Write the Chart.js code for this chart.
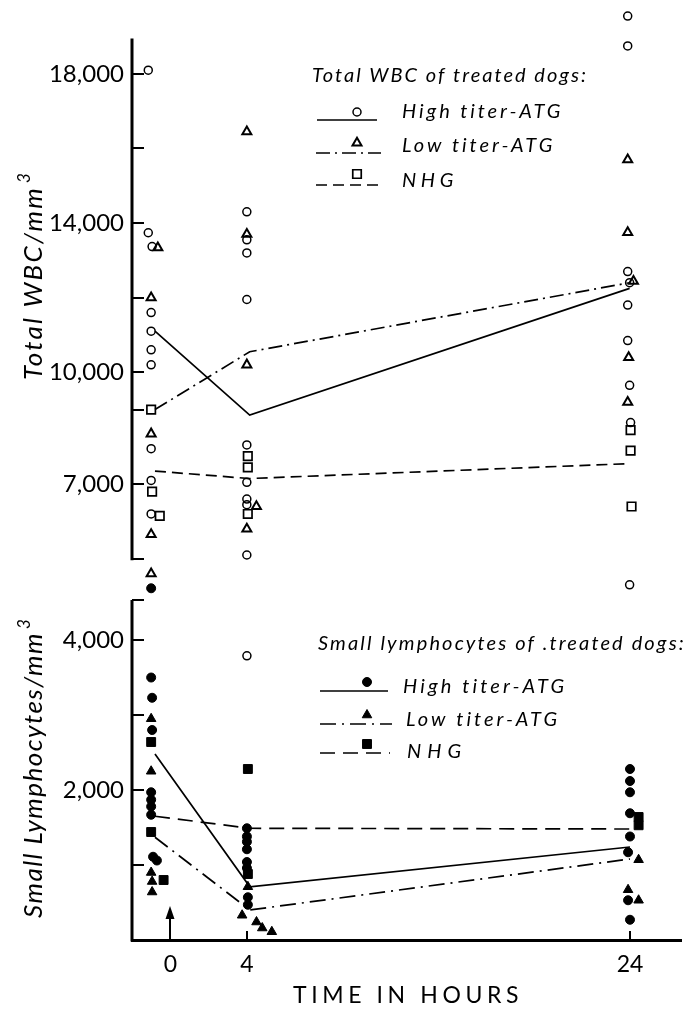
<!DOCTYPE html>
<html>
<head>
<meta charset="utf-8">
<script src="https://cdn.jsdelivr.net/npm/chart.js@4.4.1/dist/chart.umd.min.js"></script>
<style>
  html, body { margin: 0; padding: 0; background: #fff; }
  #wrap { position: relative; width: 689px; height: 1010px; overflow: hidden; background: #fff; }
  canvas { position: absolute; left: 0; }
  #cTop { top: 0; }
  #cBot { top: 565px; }
</style>
</head>
<body>
<div id="wrap">
  <canvas id="cTop" width="689" height="600"></canvas>
  <canvas id="cBot" width="689" height="445"></canvas>
</div>
<script>
// ---------------- DATA ----------------
// time axis (hours); pre-treatment samples are plotted just left of 0
const timeTicks = [0, 4, 24];
const meanTimes = [-0.8, 4.15, 24];

// Total WBC panel (cells / mm3)
const wbcTicks = [5000, 7000, 9000, 10000, 12000, 14000, 16000, 18000];
const wbcTickLabels = ['', '7,000', '', '10,000', '', '14,000', '', '18,000'];
const wbcAxisRange = [5000, 18950];

const wbcHighTimes  = [-1.15, -1.15, -0.95, -1, -1, -1, -1, -1, -1, -1,
                       4, 4, 4, 4, 4, 4, 4, 4, 4,
                       23.9, 23.9, 23.9, 24, 23.9, 23.9, 24, 24.05, 24];
const wbcHighValues = [18100, 13740, 13370, 11600, 11100, 10600, 10200, 7950, 7100, 6200,
                       14300, 13550, 13200, 11950, 8050, 7050, 6600, 6450, 5100,
                       19550, 18750, 12700, 12400, 11800, 10850, 9650, 8650, 4300];

const wbcLowTimes   = [-0.65, -1, -1, -1, -1,
                       4, 4, 4, 4.5, 4,
                       23.9, 23.9, 24.2, 23.95, 23.9];
const wbcLowValues  = [13340, 12000, 8350, 5650, 4600,
                       16450, 13700, 10200, 6400, 5800,
                       15700, 13750, 12440, 10400, 9200];

const wbcNhgTimes   = [-1, -0.95, -0.55, 4.05, 4.05, 4.05, 24.05, 24.05, 24.1];
const wbcNhgValues  = [9000, 6800, 6150, 7750, 7450, 6200, 8450, 7900, 6400];

const wbcHighMean = [11100, 8850, 12250];
const wbcLowMean  = [9000, 10550, 12400];
const wbcNhgMean  = [7350, 7150, 7550];

// Small lymphocytes panel (cells / mm3)
const lymTicks = [1000, 2000, 3000, 4000];
const lymTickLabels = ['', '2,000', '', '4,000'];
const lymAxisRange = [0, 4533];

const lymHighTimes  = [-1, -1, -0.95, -0.95, -1, -1, -1, -1, -0.9, -0.7,
                       4, 4, 4, 4, 4, 4, 4.05, 4.05,
                       24, 24, 24, 24, 24, 23.9, 23.9, 24];
const lymHighValues = [4690, 3500, 3230, 2800, 1970, 1870, 1780, 1670, 1110, 1060,
                       1490, 1380, 1310, 1210, 1040, 960, 570, 470,
                       2280, 2120, 1970, 1690, 1380, 1170, 530, 270];
const lymHighOpenTimes  = [4];
const lymHighOpenValues = [3790];

const lymLowTimes   = [-1, -1, -1, -0.95, -0.95, 4.05, 3.75, 4.5, 4.8, 5.3, 24.45, 23.9, 24.45];
const lymLowValues  = [2950, 2250, 900, 780, 640, 710, 330, 240, 160, 110, 1070, 670, 530];

const lymNhgTimes   = [-1, -1, -0.35, 4.05, 4.05, 24.45, 24.45];
const lymNhgValues  = [2640, 1440, 800, 2280, 880, 1640, 1530];

const lymHighMean = [2480, 710, 1240];
const lymLowMean  = [1370, 400, 1080];
const lymNhgMean  = [1650, 1490, 1480];

const groupNames = ['High titer-ATG', 'Low titer-ATG', 'NHG'];
const wbcLegendTitle = 'Total WBC of treated dogs:';
const lymLegendTitle = 'Small lymphocytes of .treated dogs:';

// ---------------- STYLE / LAYOUT ----------------
const BLACK = '#000';
const FONT = 'Lato, "DejaVu Sans", sans-serif';
const X_MIN = -2, X_MAX = 26.7;
const PLOT_LEFT = 132, PLOT_RIGHT = 683, PAGE_W = 689;
// plotting windows (a bit larger than the drawn axes so outlying dogs stay visible)
const WBC_VIEW = [4100, 19774];
const LYM_VIEW = [0, 4867];
const BOT_OFFSET = 565; // top of bottom canvas in page

const dashes = { high: [], low: [14, 5, 2, 5], nhg: [11, 6] };
const dashesBot = { high: [], low: [16, 6, 2, 6], nhg: [15, 8] };

Chart.defaults.font.family = FONT;
Chart.defaults.color = BLACK;

function pts(times, values) { return values.map((v, i) => ({ x: times[i], y: v })); }

function meanDs(values, dash) {
  return { data: pts(meanTimes, values), showLine: true, borderColor: BLACK, borderWidth: 1.7,
           borderDash: dash, pointRadius: 0, pointHoverRadius: 0, fill: false, clip: false, order: 2 };
}
function markDs(times, values, style, r, filled, bw) {
  return { data: pts(times, values), showLine: false, pointStyle: style, pointRadius: r, pointHoverRadius: r,
           pointBorderWidth: bw, pointBorderColor: BLACK,
           pointBackgroundColor: filled ? BLACK : 'rgba(0,0,0,0)', clip: false, order: 1 };
}

function zeroPad(s) { s.paddingTop = 0; s.paddingBottom = 0; s.paddingLeft = 0; s.paddingRight = 0; }

function makeOptions(view, yTicks, yLabels, padTop, padBottom, showX) {
  return {
    responsive: false, animation: false, events: [],
    layout: { padding: { left: 0, right: PAGE_W - PLOT_RIGHT, top: padTop, bottom: padBottom } },
    plugins: { legend: { display: false }, tooltip: { enabled: false } },
    scales: {
      x: {
        type: 'linear', min: X_MIN, max: X_MAX, display: showX,
        afterBuildTicks: s => { s.ticks = timeTicks.map(v => ({ value: v })); },
        afterFit: s => { s.height = showX ? 70 : 0; zeroPad(s); },
        grid: { display: false, drawTicks: false },
        border: { display: true, color: BLACK, width: 3 },
        ticks: { autoSkip: false, maxRotation: 0, font: { family: FONT, size: 23 }, color: BLACK, padding: 11 }
      },
      y: {
        type: 'linear', min: view[0], max: view[1],
        afterBuildTicks: s => { s.ticks = yTicks.map(v => ({ value: v })); },
        afterFit: s => { s.width = PLOT_LEFT; zeroPad(s); },
        grid: { display: false, drawTicks: false },
        border: { display: false },
        ticks: { autoSkip: false, callback: (v, i) => yLabels[i], font: { family: FONT, size: 24 }, color: BLACK, padding: 8 }
      }
    }
  };
}

// text with spacing fitted to a target width
function fitText(ctx, text, x, y, targetW) {
  if ('letterSpacing' in ctx) {
    ctx.letterSpacing = '0px';
    const w = ctx.measureText(text).width;
    const ls = (targetW - w) / Math.max(1, text.length);
    ctx.letterSpacing = ls.toFixed(2) + 'px';
    ctx.fillText(text, x, y);
    const wt = ctx.measureText(text).width;
    ctx.letterSpacing = '0px';
    return wt;
  }
  ctx.fillText(text, x, y);
  return ctx.measureText(text).width;
}

function marker(ctx, style, x, y, r, filled, bw) {
  ctx.beginPath();
  if (style === 'circle') {
    ctx.arc(x, y, r, 0, Math.PI * 2);
  } else if (style === 'triangle') {
    const a = 2 * Math.PI / 3;
    ctx.moveTo(x, y - r);
    ctx.lineTo(x + Math.sin(a) * r, y - Math.cos(a) * r);
    ctx.lineTo(x + Math.sin(2 * a) * r, y - Math.cos(2 * a) * r);
  } else {
    const s = Math.SQRT1_2 * r;
    ctx.rect(x - s, y - s, 2 * s, 2 * s);
  }
  ctx.closePath();
  ctx.setLineDash([]);
  if (filled) { ctx.fillStyle = BLACK; ctx.fill(); }
  ctx.lineWidth = bw; ctx.strokeStyle = BLACK; ctx.stroke();
}

function rotatedTitle(ctx, main, sup, bx, by, mainW) {
  ctx.save();
  ctx.translate(bx, by);
  ctx.rotate(-Math.PI / 2);
  ctx.fillStyle = BLACK;
  ctx.textAlign = 'left'; ctx.textBaseline = 'alphabetic';
  ctx.font = 'italic 26px ' + FONT;
  const w = fitText(ctx, main, 0, 0, mainW);
  ctx.font = 'italic 17px ' + FONT;
  ctx.fillText(sup, w + 3, -12);
  ctx.restore();
}

// legend: title + three rows (line sample + marker + label)
function drawLegend(ctx, L, dy) {
  ctx.save();
  ctx.fillStyle = BLACK; ctx.textAlign = 'left'; ctx.textBaseline = 'alphabetic';
  ctx.font = 'italic 20px ' + FONT;
  fitText(ctx, L.title, L.titleX, L.titleY - dy, L.titleW);
  L.rows.forEach((row, i) => {
    ctx.setLineDash(row.dash); ctx.lineWidth = 1.7; ctx.strokeStyle = BLACK;
    ctx.beginPath(); ctx.moveTo(row.x0, row.ly - dy); ctx.lineTo(row.x1, row.ly - dy); ctx.stroke();
    marker(ctx, row.style, L.markX, row.my - dy, row.r, L.filled, row.bw);
    ctx.fillStyle = BLACK;
    ctx.font = 'italic 20px ' + FONT;
    fitText(ctx, groupNames[i], row.tx, row.ty - dy, row.tw);
  });
  ctx.restore();
}

const wbcLegend = {
  title: wbcLegendTitle, titleX: 312, titleY: 82, titleW: 276, markX: 357, filled: false,
  rows: [
    { dash: dashes.high, x0: 317, x1: 377, ly: 120, style: 'circle', my: 112, r: 4, bw: 1.5, tx: 402, ty: 118, tw: 161 },
    { dash: dashes.low,  x0: 316, x1: 381, ly: 153, style: 'triangle', my: 143, r: 5.2, bw: 2, tx: 402, ty: 152, tw: 153 },
    { dash: dashes.nhg,  x0: 316, x1: 384, ly: 185, style: 'rect', my: 174, r: 6, bw: 1.7, tx: 402, ty: 187, tw: 56 }
  ]
};
const lymLegend = {
  title: lymLegendTitle, titleX: 318, titleY: 650, titleW: 368, markX: 367, filled: true,
  rows: [
    { dash: dashesBot.high, x0: 320, x1: 388, ly: 691, style: 'circle', my: 682, r: 4.5, bw: 1, tx: 403, ty: 693, tw: 164 },
    { dash: dashesBot.low,  x0: 320, x1: 392, ly: 724, style: 'triangle', my: 715, r: 5.5, bw: 1, tx: 406, ty: 726, tw: 154 },
    { dash: dashesBot.nhg,  x0: 320, x1: 390, ly: 753, style: 'rect', my: 744, r: 6.3, bw: 1, tx: 407, ty: 758, tw: 60 }
  ]
};

// y axis line over its drawn range, plus inward tick marks
function yAxisWithTicks(ctx, chart, range, values) {
  const a = chart.chartArea, y = chart.scales.y;
  ctx.save();
  ctx.strokeStyle = BLACK; ctx.setLineDash([]);
  ctx.lineWidth = 3;
  ctx.beginPath();
  ctx.moveTo(a.left, y.getPixelForValue(range[0]) + 1.5);
  ctx.lineTo(a.left, y.getPixelForValue(range[1]));
  ctx.stroke();
  ctx.lineWidth = 2;
  values.forEach(v => {
    const p = Math.round(y.getPixelForValue(v));
    ctx.beginPath(); ctx.moveTo(a.left, p); ctx.lineTo(a.left + 12, p); ctx.stroke();
  });
  ctx.restore();
}

const topDecor = {
  id: 'topDecor',
  afterDraw(chart) {
    const ctx = chart.ctx;
    yAxisWithTicks(ctx, chart, wbcAxisRange, wbcTicks);
    rotatedTitle(ctx, 'Total WBC/mm', '3', 42, 380, 194);
    drawLegend(ctx, wbcLegend, 0);
  }
};

const botDecor = {
  id: 'botDecor',
  afterDraw(chart) {
    const ctx = chart.ctx, a = chart.chartArea, xs = chart.scales.x;
    yAxisWithTicks(ctx, chart, lymAxisRange, lymTicks.concat([lymAxisRange[1]]));
    ctx.save();
    ctx.strokeStyle = BLACK; ctx.fillStyle = BLACK; ctx.lineWidth = 2; ctx.setLineDash([]);
    // arrow marking injection at time 0
    const x0 = Math.round(xs.getPixelForValue(timeTicks[0]));
    ctx.beginPath(); ctx.moveTo(x0, a.bottom); ctx.lineTo(x0, a.bottom - 24); ctx.stroke();
    ctx.beginPath(); ctx.moveTo(x0, a.bottom - 34); ctx.lineTo(x0 - 4.5, a.bottom - 21); ctx.lineTo(x0 + 4.5, a.bottom - 21); ctx.closePath(); ctx.fill();
    // small ticks at 4 and 24
    timeTicks.slice(1).forEach(t => {
      const p = Math.round(xs.getPixelForValue(t));
      ctx.beginPath(); ctx.moveTo(p, a.bottom); ctx.lineTo(p, a.bottom - 9); ctx.stroke();
    });
    // x title
    ctx.font = '23px ' + FONT; ctx.textAlign = 'left'; ctx.textBaseline = 'alphabetic';
    fitText(ctx, 'TIME IN HOURS', 293, 1003 - BOT_OFFSET, 230);
    ctx.restore();
    rotatedTitle(ctx, 'Small Lymphocytes/mm', '3', 42, 918 - BOT_OFFSET, 286);
    drawLegend(ctx, lymLegend, BOT_OFFSET);
  }
};

new Chart(document.getElementById('cTop'), {
  type: 'scatter',
  data: {
    datasets: [
      meanDs(wbcHighMean, dashes.high),
      meanDs(wbcLowMean, dashes.low),
      meanDs(wbcNhgMean, dashes.nhg),
      markDs(wbcHighTimes, wbcHighValues, 'circle', 4, false, 1.5),
      markDs(wbcLowTimes, wbcLowValues, 'triangle', 5.2, false, 2),
      markDs(wbcNhgTimes, wbcNhgValues, 'rect', 6, false, 1.7)
    ]
  },
  options: makeOptions(WBC_VIEW, wbcTicks, wbcTickLabels, 5, 3, false),
  plugins: [topDecor]
});

new Chart(document.getElementById('cBot'), {
  type: 'scatter',
  data: {
    datasets: [
      meanDs(lymHighMean, dashesBot.high),
      meanDs(lymLowMean, dashesBot.low),
      meanDs(lymNhgMean, dashesBot.nhg),
      markDs(lymHighTimes, lymHighValues, 'circle', 4.5, true, 1),
      markDs(lymHighOpenTimes, lymHighOpenValues, 'circle', 4, false, 1.5),
      markDs(lymLowTimes, lymLowValues, 'triangle', 5.5, true, 1),
      markDs(lymNhgTimes, lymNhgValues, 'rect', 6.3, true, 1)
    ]
  },
  options: makeOptions(LYM_VIEW, lymTicks, lymTickLabels, 10, 0, true),
  plugins: [botDecor]
});
</script>
</body>
</html>
